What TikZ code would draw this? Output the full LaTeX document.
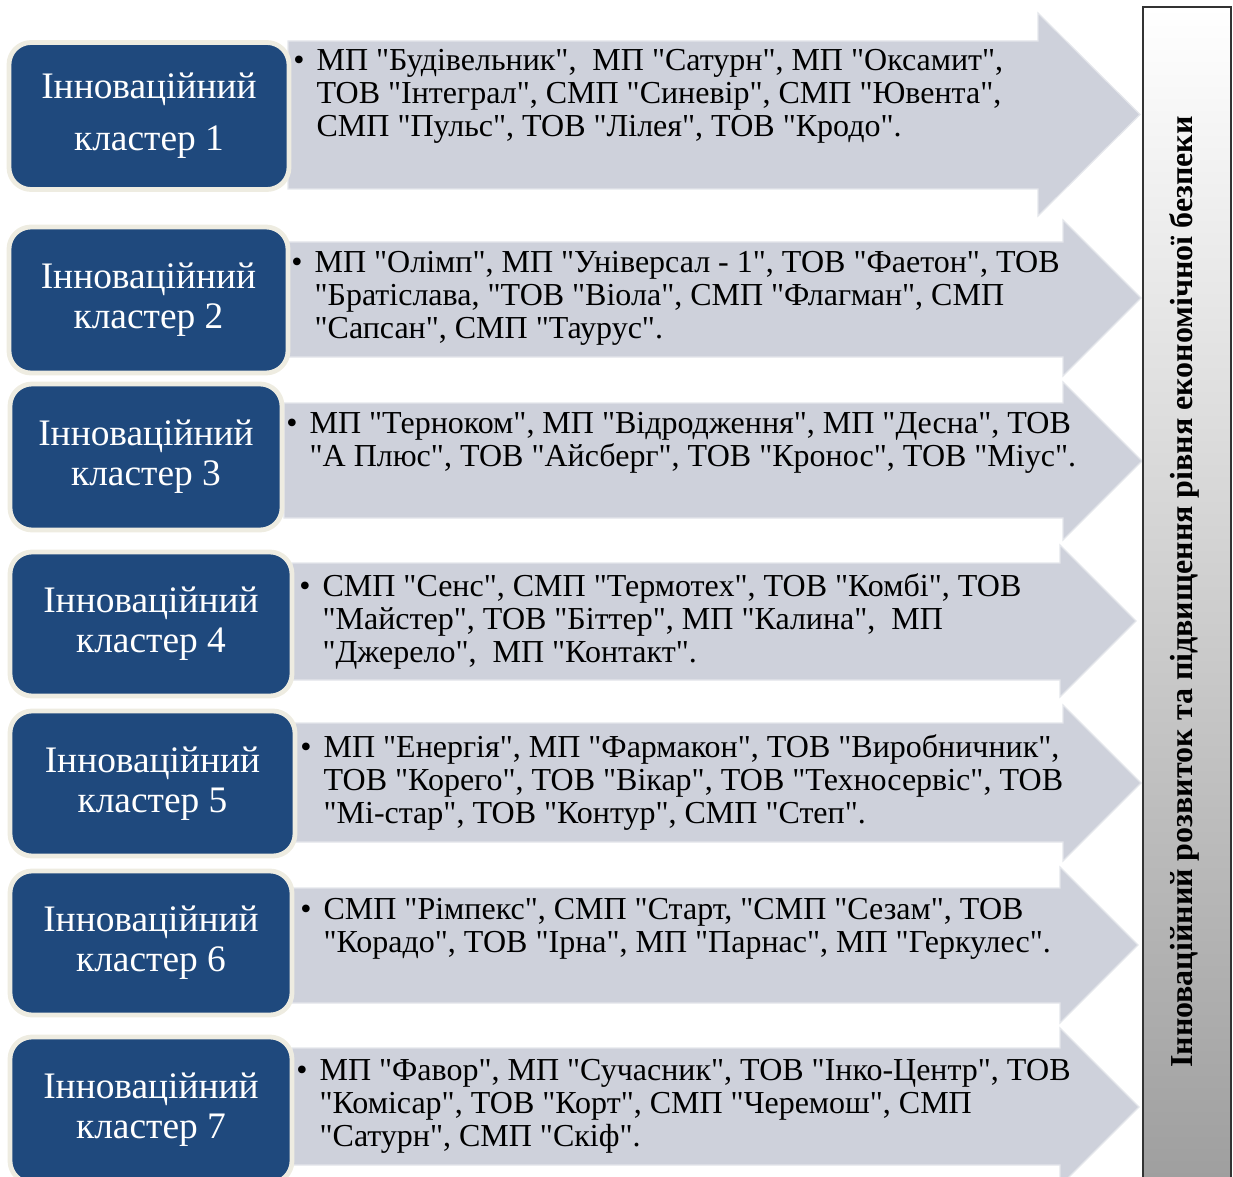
\documentclass[tikz,border=0pt]{standalone}
\usepackage{fontspec}
\setmainfont{Liberation Serif}[Ligatures=TeXOff]
\usepackage{xcolor}
\usepackage{tikz}
\usetikzlibrary{positioning}

\definecolor{clblue}{RGB}{31,73,125}
\definecolor{clcream}{RGB}{238,236,225}
\definecolor{bandgray}{RGB}{206,209,219}

\begin{document}
\begin{tikzpicture}[
    x=0.5pt, y=-0.5pt,
    cluster/.style={draw=clcream, line width=2.4pt, fill=clblue, rounded corners=11pt,
        text=white, align=center, inner sep=0pt, font=\fontsize{18.7}{20}\selectfont},
    band/.style={fill=bandgray, draw=bandgray!55!white, line width=0.6pt},
    members/.style={anchor=north west, inner sep=0pt, font=\fontsize{16}{16.5}\selectfont},
    goal/.style={rotate=90, inner sep=0pt, font=\fontsize{16}{17}\selectfont\bfseries}
]
\useasboundingbox (0,0) rectangle (1233,1177);

% arrows behind the cluster boxes
\fill[band] (288,41) -- (1038,41) -- (1038,13) -- (1140,114.5) -- (1038,216) -- (1038,189) -- (288,189) -- cycle;
\fill[band] (288,242) -- (1063,242) -- (1063,220) -- (1141,298) -- (1063,376) -- (1063,357) -- (288,357) -- cycle;
\fill[band] (284,403) -- (1063,403) -- (1063,382) -- (1142,461) -- (1063,540) -- (1063,518) -- (284,518) -- cycle;
\fill[band] (292,563) -- (1060,563) -- (1060,545) -- (1136,621) -- (1060,697) -- (1060,680) -- (292,680) -- cycle;
\fill[band] (295,723) -- (1063,723) -- (1063,705) -- (1141,783) -- (1063,861) -- (1063,842) -- (295,842) -- cycle;
\fill[band] (292,888) -- (1060,888) -- (1060,867) -- (1138,945) -- (1060,1023) -- (1060,1003) -- (292,1003) -- cycle;
\fill[band] (292,1048) -- (1060,1048) -- (1060,1028) -- (1139,1107) -- (1060,1186) -- (1060,1165) -- (292,1165) -- cycle;

% cluster boxes
\node[cluster, minimum width=140pt, minimum height=73.5pt] (clust1) at (149,116) {Інноваційний\\[6pt]кластер 1};
\node[cluster, minimum width=139.5pt, minimum height=73pt] (clust2) at (148.5,300) {Інноваційний\\кластер 2};
\node[cluster, minimum width=136pt, minimum height=73pt] (clust3) at (146,457) {Інноваційний\\кластер 3};
\node[cluster, minimum width=141pt, minimum height=72pt] (clust4) at (151,624) {Інноваційний\\кластер 4};
\node[cluster, minimum width=142.5pt, minimum height=72.5pt] (clust5) at (152.5,783.5) {Інноваційний\\кластер 5};
\node[cluster, minimum width=141pt, minimum height=72pt] (clust6) at (151,943) {Інноваційний\\кластер 6};
\node[cluster, minimum width=141pt, minimum height=73pt] (clust7) at (151,1110) {Інноваційний\\кластер 7};

% members of each cluster
\node[members] (list1) at (293,47) {\begin{tabular}{@{}l@{\hspace{6pt}}l@{}}
\textbullet & МП "Будівельник",\ \ МП "Сатурн", МП "Оксамит",\\
 & ТОВ "Інтеграл", СМП "Синевір", СМП "Ювента",\\
 & СМП "Пульс", ТОВ "Лілея", ТОВ "Кродо".
\end{tabular}};
\node[members] (list2) at (291,249) {\begin{tabular}{@{}l@{\hspace{6pt}}l@{}}
\textbullet & МП "Олімп", МП "Універсал - 1", ТОВ "Фаетон", ТОВ\\
 & "Братіслава, "ТОВ "Віола", СМП "Флагман", СМП\\
 & "Сапсан", СМП "Таурус".
\end{tabular}};
\node[members] (list3) at (286,410) {\begin{tabular}{@{}l@{\hspace{6pt}}l@{}}
\textbullet & МП "Терноком", МП "Відродження", МП "Десна", ТОВ\\
 & "А Плюс", ТОВ "Айсберг", ТОВ "Кронос", ТОВ "Міус".
\end{tabular}};
\node[members] (list4) at (299,573) {\begin{tabular}{@{}l@{\hspace{6pt}}l@{}}
\textbullet & СМП "Сенс", СМП "Термотех", ТОВ "Комбі", ТОВ\\
 & "Майстер", ТОВ "Біттер", МП "Калина",\ \ МП\\
 & "Джерело",\ \ МП "Контакт".
\end{tabular}};
\node[members] (list5) at (300,734) {\begin{tabular}{@{}l@{\hspace{6pt}}l@{}}
\textbullet & МП "Енергія", МП "Фармакон", ТОВ "Виробничник",\\
 & ТОВ "Корего", ТОВ "Вікар", ТОВ "Техносервіс", ТОВ\\
 & "Мі-стар", ТОВ "Контур", СМП "Степ".
\end{tabular}};
\node[members] (list6) at (300,896) {\begin{tabular}{@{}l@{\hspace{6pt}}l@{}}
\textbullet & СМП "Рімпекс", СМП "Старт, "СМП "Сезам", ТОВ\\
 & "Корадо", ТОВ "Ірна", МП "Парнас", МП "Геркулес".
\end{tabular}};
\node[members] (list7) at (296,1057) {\begin{tabular}{@{}l@{\hspace{6pt}}l@{}}
\textbullet & МП "Фавор", МП "Сучасник", ТОВ "Інко-Центр", ТОВ\\
 & "Комісар", ТОВ "Корт", СМП "Черемош", СМП\\
 & "Сатурн", СМП "Скіф".
\end{tabular}};

% common goal bar
\shade[top color=white, bottom color=black!38, draw=black!80, line width=0.9pt]
    (1143,7) rectangle (1231,1190);
\node[goal] (goal) at (1184,592) {Інноваційний розвиток та підвищення рівня економічної безпеки};
\end{tikzpicture}
\end{document}
